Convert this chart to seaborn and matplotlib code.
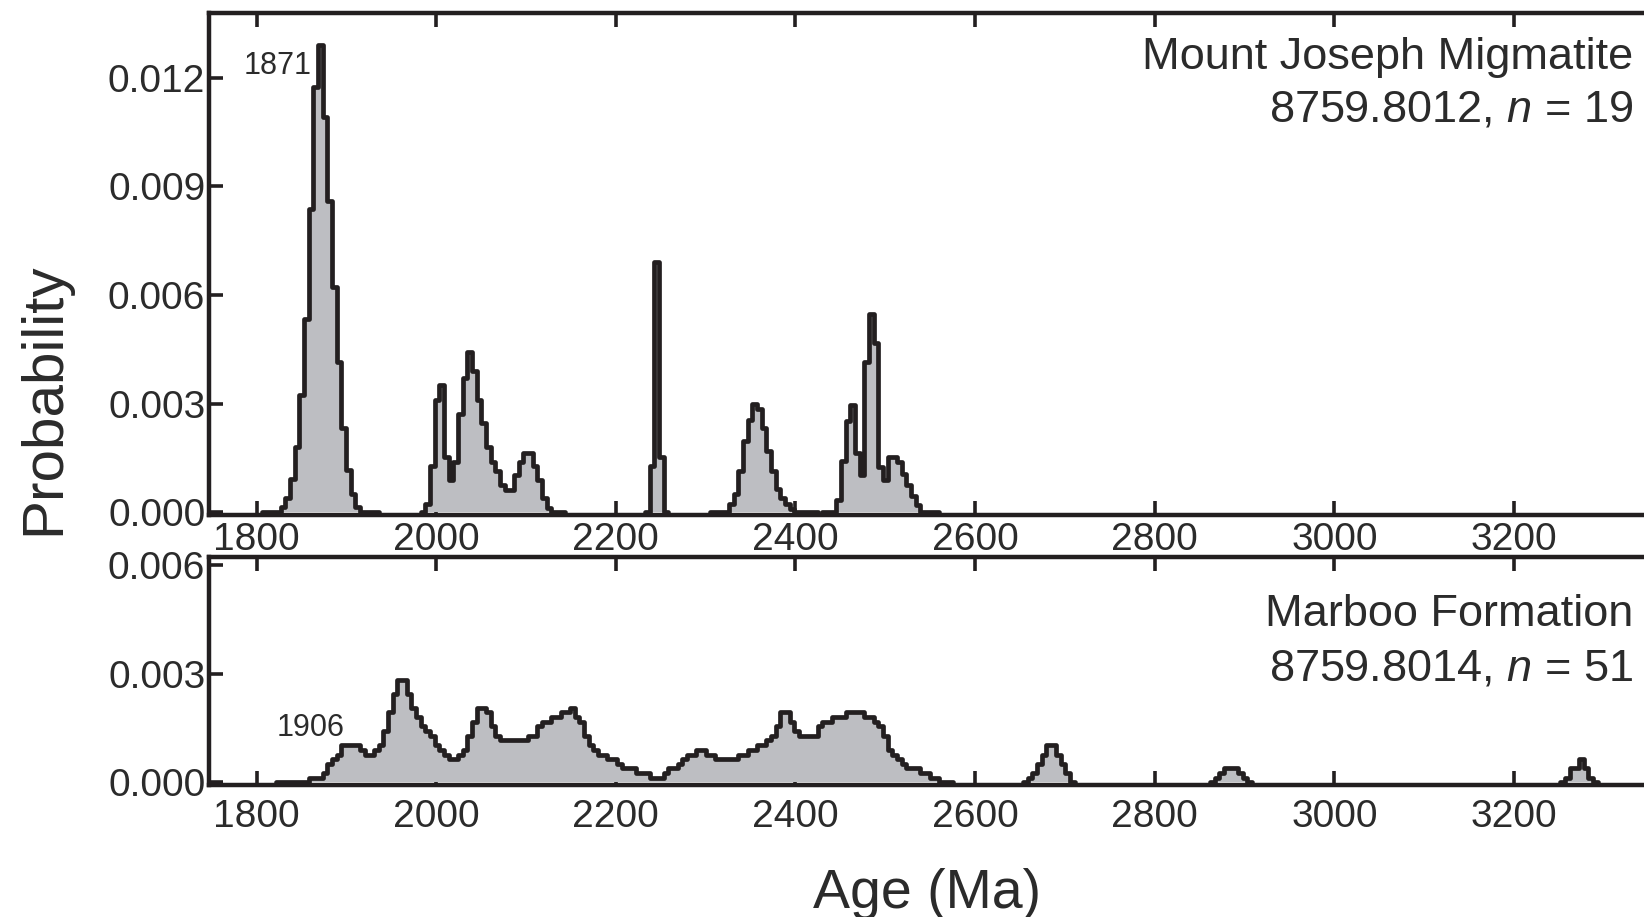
import numpy as np
import matplotlib
matplotlib.use("Agg")
import matplotlib.pyplot as plt
import seaborn as sns

# probability density in 5.2 Ma steps (one step = one pixel column of the source)
BIN = 5.2

# Mount Joseph Migmatite, 8759.8012 (start age of each cluster = left edge of first step)
mj_1871_start = 1805.9
mj_1871 = [0, 0, 0, 0,
           0.00014, 0.00039, 0.00092, 0.0018, 0.00325, 0.00533, 0.00838, 0.01175,
           0.0129, 0.0109, 0.00858, 0.00623, 0.00416, 0.00232, 0.00118, 0.00051, 0.00016,
           0, 0, 0, 0]
mj_2040_start = 1982.7
mj_2040 = [0, 0.00024, 0.00129, 0.00309, 0.00352, 0.00154, 0.00089, 0.0014, 0.00271,
           0.0037, 0.00442, 0.0039, 0.0031, 0.00246, 0.00179, 0.0014, 0.00113, 0.00076,
           0.00062, 0.00062, 0.00104, 0.0014, 0.00165, 0.00165, 0.00127, 0.0009,
           0.00039, 0.00012, 0, 0, 0]
mj_2245_start = 2232.3
mj_2245 = [0, 0.00129, 0.00692, 0.00154, 0]
mj_2355_start = 2305.1
mj_2355 = [0, 0, 0, 0,
           0.00023, 0.0005, 0.00113, 0.00196, 0.00256, 0.003, 0.00286, 0.00232,
           0.00168, 0.00113, 0.00065, 0.00039, 0.00023, 0.0001,
           0, 0, 0, 0, 0]
mj_2490_start = 2429.9
mj_2490 = [0, 0, 0,
           0.00034, 0.00142, 0.00252, 0.00296, 0.00165, 0.00104, 0.00415, 0.00547,
           0.00467, 0.00125, 0.00089, 0.00154, 0.00154, 0.0014, 0.00105, 0.00075,
           0.00045, 0.0002,
           0, 0, 0, 0]

# Marboo Formation, 8759.8014
mb_main_start = 1821.5
mb_main = [0, 0, 0, 0, 0, 0, 0,
           0.00013, 0.00013, 0.00013, 0.00026, 0.00052, 0.00064, 0.00077,
           0.00103, 0.00103, 0.00103, 0.00103, 0.0009, 0.00077, 0.00077, 0.0009,
           0.00103, 0.00142, 0.00193, 0.00245, 0.00283, 0.00283, 0.00245, 0.00206,
           0.0018, 0.00155, 0.00142, 0.00129, 0.00103, 0.0009, 0.00077, 0.00064,
           0.00064, 0.00077, 0.0009, 0.00129, 0.00167, 0.00206, 0.00206, 0.00193,
           0.00155, 0.00129, 0.00116, 0.00116, 0.00116, 0.00116, 0.00116, 0.00116,
           0.00129, 0.00129, 0.00155, 0.00167, 0.00167, 0.0018, 0.0018, 0.00193,
           0.00193, 0.00206, 0.0018, 0.00167, 0.00129, 0.00103, 0.0009, 0.00077,
           0.00077, 0.00064, 0.00064, 0.00052, 0.00039, 0.00039, 0.00039, 0.00026,
           0.00026, 0.00026, 0.00013, 0.00013, 0.00013, 0.00026, 0.00039, 0.00039,
           0.00052, 0.00064, 0.00077, 0.00077, 0.0009, 0.0009, 0.00077, 0.00077,
           0.00064, 0.00064, 0.00064, 0.00064, 0.00064, 0.00077, 0.00077, 0.0009,
           0.0009, 0.00103, 0.00103, 0.00116, 0.00129, 0.00155, 0.00193, 0.00193,
           0.00167, 0.00142, 0.00129, 0.00129, 0.00129, 0.00129, 0.00155, 0.00167,
           0.00167, 0.0018, 0.0018, 0.0018, 0.00193, 0.00193, 0.00193, 0.00193,
           0.0018, 0.0018, 0.00167, 0.00155, 0.00129, 0.0009, 0.00077, 0.00064,
           0.00052, 0.00039, 0.00039, 0.00039, 0.00026, 0.00026, 0.00013, 0.00013,
           0, 0, 0]
mb_2685_start = 2653.5
mb_2685 = [0, 0.00013, 0.00026, 0.00052, 0.00077, 0.00103, 0.00103, 0.00077, 0.00052, 0.00026, 0]
mb_2885_start = 2861.5
mb_2885 = [0, 0.00013, 0.00026, 0.00039, 0.00039, 0.00039, 0.00026, 0.00013, 0]
mb_3275_start = 3251.5
mb_3275 = [0, 0.00013, 0.00039, 0.00039, 0.00064, 0.00039, 0.00013, 0]

x_ticks = [1800, 2000, 2200, 2400, 2600, 2800, 3000, 3200]
mj_yticks = [0.0, 0.003, 0.006, 0.009, 0.012]
mb_yticks = [0.0, 0.003, 0.006]

FILL = "#bdbec2"
INK = "#231f20"
TXT = "#2b2b2b"

sns.set_theme(style="ticks")
plt.rcParams["font.family"] = ["Liberation Sans", "DejaVu Sans"]
plt.rcParams["mathtext.fontset"] = "custom"
plt.rcParams["mathtext.rm"] = "Liberation Sans"
plt.rcParams["mathtext.it"] = "Liberation Sans:italic"


def draw_pdp(ax, start, probs):
    probs = np.asarray(probs, dtype=float)
    left = start + BIN * np.arange(len(probs))
    edges = np.append(left, left[-1] + BIN).tolist()
    centers = left + BIN / 2
    sns.histplot(x=centers, weights=probs, bins=edges, element="step", fill=True,
                 color=FILL, alpha=1, linewidth=0, edgecolor="none", ax=ax)
    sns.histplot(x=centers, weights=probs, bins=edges, element="step", fill=False,
                 color=INK, linewidth=3.4, ax=ax)


def style_axis(ax, yticks, ylim, xpad):
    ax.set_xlim(1747.5, 3364)
    ax.set_ylim(*ylim)
    ax.set_xticks(x_ticks)
    ax.set_xticklabels([str(t) for t in x_ticks])
    ax.set_yticks(yticks)
    ax.set_yticklabels([f"{t:.3f}" for t in yticks])
    ax.set_xlabel("")
    ax.set_ylabel("")
    ax.spines["right"].set_visible(False)
    for s in ["left", "top", "bottom"]:
        ax.spines[s].set_linewidth(3.2)
        ax.spines[s].set_color(INK)
    ax.tick_params(axis="both", direction="in", length=10, width=2.6, color=INK,
                   labelsize=28, labelcolor=TXT)
    ax.tick_params(axis="x", top=True, bottom=True, pad=xpad)
    ax.tick_params(axis="y", left=True, right=False, pad=3)


fig = plt.figure(figsize=(16.44, 9.17), dpi=100)
ax1 = fig.add_axes([0.1274, 0.4386, 0.8831, 0.5472])
ax2 = fig.add_axes([0.1274, 0.1440, 0.8831, 0.2490])

for start, probs in [(mj_1871_start, mj_1871), (mj_2040_start, mj_2040),
                     (mj_2245_start, mj_2245), (mj_2355_start, mj_2355),
                     (mj_2490_start, mj_2490)]:
    draw_pdp(ax1, start, probs)

for start, probs in [(mb_main_start, mb_main), (mb_2685_start, mb_2685),
                     (mb_2885_start, mb_2885), (mb_3275_start, mb_3275)]:
    draw_pdp(ax2, start, probs)

style_axis(ax1, mj_yticks, (-0.000069, 0.01378), 5)
style_axis(ax2, mb_yticks, (-0.000069, 0.006226), 10)

ax1.text(1861, 0.0121, "1871", ha="right", va="baseline", fontsize=22, color=TXT)
ax2.text(1898, 0.00128, "1906", ha="right", va="baseline", fontsize=22, color=TXT)

fig.text(0.9933, 0.9248, "Mount Joseph Migmatite", ha="right", va="baseline",
         fontsize=32.5, color=TXT)
fig.text(0.9933, 0.8670, "8759.8012, $n$ = 19", ha="right", va="baseline",
         fontsize=32.5, color=TXT)
fig.text(0.9933, 0.3173, "Marboo Formation", ha="right", va="baseline",
         fontsize=32.5, color=TXT)
fig.text(0.9933, 0.2574, "8759.8014, $n$ = 51", ha="right", va="baseline",
         fontsize=32.5, color=TXT)

fig.text(0.0268, 0.5654, "Probability", rotation=90, ha="center", va="center",
         fontsize=42, color=TXT)
fig.text(0.5642, 0.0098, "Age (Ma)", ha="center", va="baseline", fontsize=40, color=TXT)

fig.savefig("out.png", dpi=100)
